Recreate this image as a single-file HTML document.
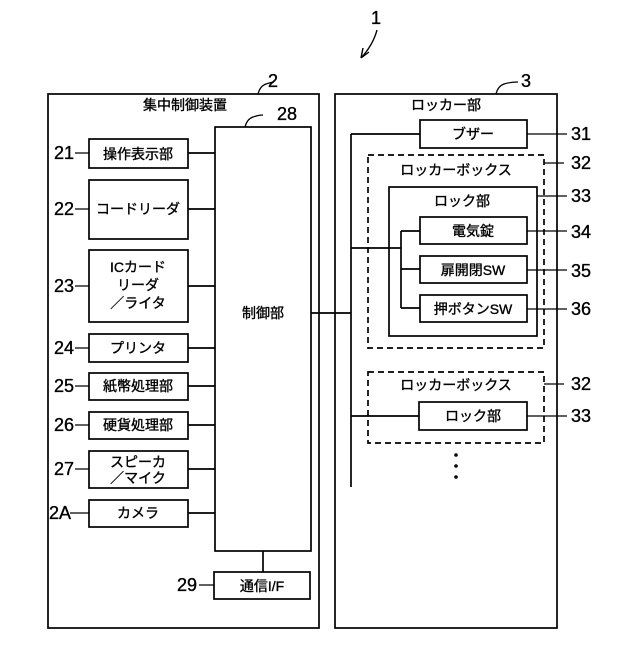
<!DOCTYPE html>
<html><head><meta charset="utf-8"><style>
body{margin:0;background:#fff}
svg text{font-family:"Liberation Sans","Noto Sans CJK JP",sans-serif;fill:#000;stroke:#000;stroke-width:0.35}
</style></head><body>
<svg width="640" height="640" viewBox="0 0 640 640" xmlns="http://www.w3.org/2000/svg">
<g fill="none" stroke="#000" stroke-width="1.7">
<rect x="48" y="94" width="271" height="534"/>
<rect x="335" y="94" width="222" height="534"/>
<rect x="215" y="127" width="96" height="424"/>
<rect x="89" y="139" width="99" height="29"/>
<rect x="89" y="180" width="99" height="59"/>
<rect x="89" y="250" width="99" height="72"/>
<rect x="89" y="334" width="99" height="28"/>
<rect x="89" y="373" width="99" height="27"/>
<rect x="89" y="412" width="99" height="27"/>
<rect x="89" y="451" width="99" height="37"/>
<rect x="89" y="500" width="99" height="27"/>
<rect x="214" y="572" width="96" height="27"/>
<path d="M188 153H215M188 209H215M188 286H215M188 348H215M188 386H215M188 425H215M188 469H215M188 513H215M263 551V572"/>
<path d="M311 313H351M351 134V487M351 134H420M351 248H401M401 231V308M401 231H420M401 269H420M401 308H420M351 416H419"/>
<rect x="420" y="120" width="107" height="28"/>
<rect x="389" y="187" width="148" height="149"/>
<rect x="420" y="217" width="107" height="27"/>
<rect x="420" y="256" width="107" height="27"/>
<rect x="420" y="295" width="107" height="27"/>
<rect x="419" y="402" width="108" height="28"/>
<rect x="368" y="155" width="176" height="193" stroke-dasharray="6,4"/>
<rect x="368" y="372" width="176" height="71" stroke-dasharray="6,4"/>
<path d="M258 94q2-8 8-10t8-2M245 127q2-8 8-10t10-2M496 94q2-8 8-10t14-2" stroke-width="1.2"/>
<path d="M377 30q-4 15-16 28M361 58l2-10M361 58l8-6" stroke-width="1.4"/>
<path d="M75 153h14M75 209h14M75 286h14M75 348h14M75 386h14M75 425h14M75 469h14M70 513h19M199 585h15" stroke-width="1.2"/>
<path d="M527 134q20 0 40 0M544 163h20M537 196h30M527 231h40M527 270h40M527 309h40M544 384h20M527 416h40" stroke-width="1.2"/>
</g>
<g fill="#000" stroke="none"><circle cx="456" cy="455" r="1.8"/><circle cx="456" cy="466" r="1.8"/><circle cx="456" cy="477" r="1.8"/></g>
<g font-size="18" text-anchor="middle">
<text x="376" y="24">1</text>
<text x="273" y="87">2</text>
<text x="287" y="120">28</text>
<text x="526" y="87">3</text>
<text x="64" y="159">21</text>
<text x="64" y="215">22</text>
<text x="64" y="292">23</text>
<text x="64" y="354">24</text>
<text x="64" y="392">25</text>
<text x="64" y="431">26</text>
<text x="64" y="475">27</text>
<text x="60" y="519">2A</text>
<text x="187" y="591">29</text>
<text x="581" y="140">31</text>
<text x="581" y="169">32</text>
<text x="581" y="202">33</text>
<text x="581" y="238">34</text>
<text x="581" y="277">35</text>
<text x="581" y="315">36</text>
<text x="581" y="390">32</text>
<text x="581" y="422">33</text>
</g>
<g font-size="14" text-anchor="middle">
<text x="185" y="110">集中制御装置</text>
<text x="138" y="159">操作表示部</text>
<text x="138" y="214">コードリーダ</text>
<text x="138" y="272">ICカード</text>
<text x="138" y="290">リーダ</text>
<text x="138" y="308">／ライタ</text>
<text x="138" y="353">プリンタ</text>
<text x="138" y="391">紙幣処理部</text>
<text x="138" y="430">硬貨処理部</text>
<text x="138" y="467">スピーカ</text>
<text x="138" y="483">／マイク</text>
<text x="138" y="518">カメラ</text>
<text x="263" y="318">制御部</text>
<text x="262" y="591">通信I/F</text>
<text x="446" y="110">ロッカー部</text>
<text x="473" y="139">ブザー</text>
<text x="456" y="175">ロッカーボックス</text>
<text x="462" y="206">ロック部</text>
<text x="473" y="236">電気錠</text>
<text x="473" y="275">扉開閉SW</text>
<text x="473" y="314">押ボタンSW</text>
<text x="456" y="390">ロッカーボックス</text>
<text x="473" y="421">ロック部</text>
</g>
</svg>
</body></html>
